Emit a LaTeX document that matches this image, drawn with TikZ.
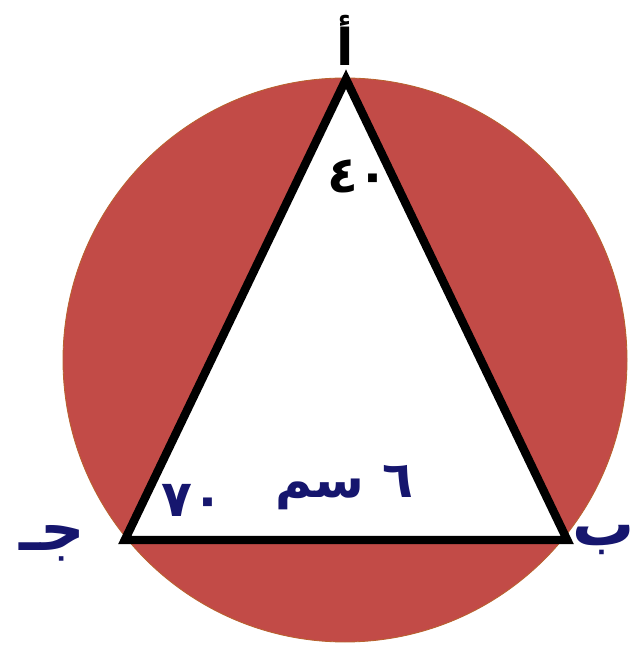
\documentclass[tikz,border=0pt]{standalone}
\usepackage{fontspec}
\usepackage{xcolor}
\TeXXeTstate=1
\newfontfamily\arabicfont[Script=Arabic]{DejaVu Sans}
\definecolor{discred}{HTML}{C24B47}
\definecolor{discedge}{HTML}{B8622E}
\definecolor{lblblue}{HTML}{16166E}
\tikzset{
  disc/.style={fill=discred, draw=discedge, line width=0.6pt},
  tri/.style={draw=black, line width=6pt, line join=miter, fill=white},
  vlbl/.style={font=\arabicfont\bfseries\fontsize{44}{44}\selectfont,
               text=lblblue, inner sep=0pt},
  albl/.style={font=\arabicfont\bfseries\fontsize{36}{36}\selectfont,
               inner sep=0pt},
}
\begin{document}
\begin{tikzpicture}
  \useasboundingbox (0,0) rectangle (15.9,16.2);
  %% Circle
  \coordinate (O) at (8.625,7.2);
  \draw[disc] (O) circle (7.05);
  %% Triangle
  \coordinate (A) at (8.65,14.22);
  \coordinate (B) at (14.18,2.7);
  \coordinate (C) at (3.12,2.7);
  \draw[tri] (A) -- (B) -- (C) -- cycle;
  %% Vertex labels
  \node[albl, text=black] (la) at (8.62,15.2) {\beginR أ\endR};
  \node[vlbl, anchor=east] (lb) at (15.88,2.7) {\beginR ب\endR};
  \node[vlbl] (lc) at (1.3,2.62) {\beginR جـ\endR};
  %% Angles and side
  \node[albl, text=black] (anga) at (8.95,11.78) {٤٠};
  \node[albl, text=lblblue] (angc) at (4.82,3.7) {٧٠};
  \node[albl, text=lblblue] (side) at (8.6,4.0) {\beginR ٦ سم\endR};
\end{tikzpicture}
\end{document}
